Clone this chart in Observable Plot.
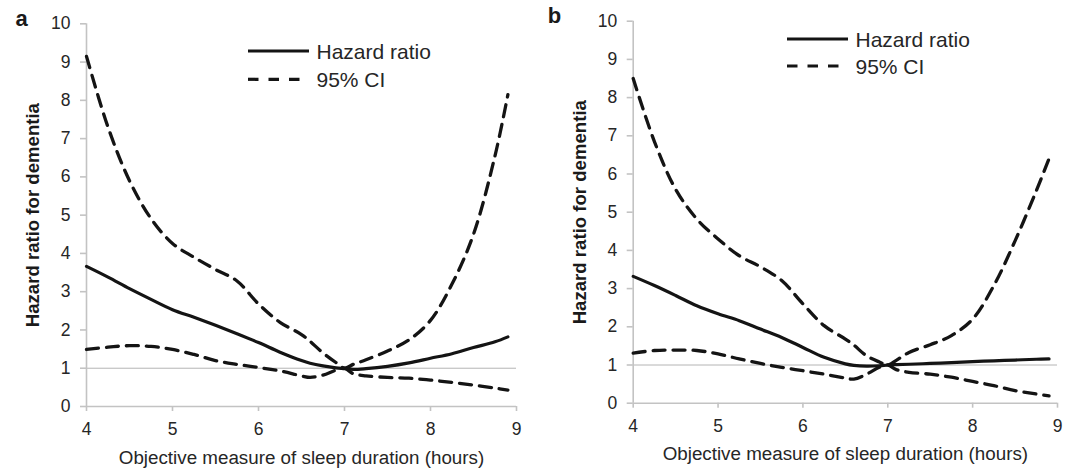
<!DOCTYPE html>
<html>
<head>
<meta charset="utf-8">
<script src="https://cdn.jsdelivr.net/npm/d3@7"></script>
<script src="https://cdn.jsdelivr.net/npm/@observablehq/plot@0.6"></script>
<style>
  html, body { margin: 0; padding: 0; background: #fff; }
  #wrap { position: relative; width: 1080px; height: 472px; overflow: hidden; font-family: "Liberation Sans", Arial, sans-serif; }
  .panel { position: absolute; top: 0; }
  .legend { position: absolute; }
</style>
</head>
<body>
<div id="wrap"></div>
<script>
// ---- data ----
const sleepHours = [4, 4.25, 4.5, 4.75, 5, 5.25, 5.5, 5.75, 6, 6.25, 6.5, 6.6, 6.75, 6.9, 7, 7.1, 7.25, 7.5, 7.75, 8, 8.25, 8.5, 8.75, 8.9];

// Panel a
const hrA    = [3.66, 3.38, 3.08, 2.8, 2.53, 2.33, 2.12, 1.9, 1.67, 1.42, 1.2, 1.13, 1.06, 1.01, 0.99, 0.97, 0.99, 1.05, 1.14, 1.26, 1.38, 1.54, 1.69, 1.82];
const upperA = [9.15, 7.3, 5.9, 4.91, 4.26, 3.9, 3.58, 3.28, 2.68, 2.2, 1.88, 1.7, 1.4, 1.15, 1.0, 1.1, 1.22, 1.45, 1.74, 2.25, 3.2, 4.5, 6.55, 8.15];
const lowerA = [1.49, 1.55, 1.59, 1.57, 1.49, 1.36, 1.2, 1.1, 1.02, 0.93, 0.8, 0.76, 0.82, 0.95, 1.0, 0.86, 0.8, 0.76, 0.74, 0.69, 0.63, 0.56, 0.48, 0.43];

// Panel b
const hrB    = [3.32, 3.08, 2.82, 2.55, 2.34, 2.16, 1.94, 1.72, 1.46, 1.2, 1.03, 0.99, 0.97, 0.98, 1.0, 1.01, 1.02, 1.04, 1.06, 1.09, 1.11, 1.13, 1.15, 1.16];
const upperB = [8.5, 6.85, 5.6, 4.82, 4.3, 3.86, 3.57, 3.21, 2.6, 2.03, 1.68, 1.52, 1.24, 1.08, 1.0, 1.12, 1.33, 1.53, 1.77, 2.2, 3.08, 4.25, 5.56, 6.4];
const lowerB = [1.31, 1.38, 1.39, 1.38, 1.29, 1.16, 1.04, 0.94, 0.85, 0.76, 0.66, 0.63, 0.76, 0.94, 1.0, 0.88, 0.81, 0.76, 0.68, 0.57, 0.46, 0.33, 0.24, 0.19];

const xTicks = [4, 5, 6, 7, 8, 9];
const yTicks = [0, 1, 2, 3, 4, 5, 6, 7, 8, 9, 10];
const referenceHR = [1];
const panelLabels = ["a", "b"];
const legendNames = ["Hazard ratio", "95% CI"];
const xTitle = "Objective measure of sleep duration (hours)";
const yTitle = "Hazard ratio for dementia";

// ---- styles ----
const FONT = '"Liberation Sans", Arial, sans-serif';
const lineColor = "#141414";
const axisColor = "#c3c3c3";
const refColor = "#b4b4b4";
const textColor = "#262626";
const dash = "12,8";

function panel(opts) {
  const {hr, upper, lower, label, ml, mr, mt, mb, labelDx, labelDy, yTitleDx, xTitleDy, xTickPad} = opts;
  return Plot.plot({
    width: 540,
    height: 472,
    marginLeft: ml,
    marginRight: mr,
    marginTop: mt,
    marginBottom: mb,
    style: {fontFamily: FONT, background: "transparent", overflow: "visible"},
    x: {domain: [4, 9], axis: null},
    y: {domain: [0, 10], axis: null},
    marks: [
      Plot.ruleY(referenceHR, {stroke: refColor, strokeWidth: 1}),
      Plot.ruleX([4], {stroke: axisColor, strokeWidth: 1.6}),
      Plot.ruleY([0], {stroke: axisColor, strokeWidth: 1.6}),
      Plot.axisY({ticks: yTicks, tickSize: 6, tickPadding: 10, stroke: axisColor, strokeWidth: 1.6, fill: textColor, fontSize: 17.5, label: null, tickFormat: d => String(d)}),
      Plot.axisX({ticks: xTicks, tickSize: 5, tickPadding: xTickPad, stroke: axisColor, strokeWidth: 1.6, fill: textColor, fontSize: 17.5, label: null, tickFormat: d => String(d)}),
      Plot.line(sleepHours, {x: sleepHours, y: lower, curve: "catmull-rom", stroke: lineColor, strokeWidth: 3.3, strokeDasharray: dash}),
      Plot.line(sleepHours, {x: sleepHours, y: upper, curve: "catmull-rom", stroke: lineColor, strokeWidth: 3.3, strokeDasharray: dash}),
      Plot.line(sleepHours, {x: sleepHours, y: hr, curve: "catmull-rom", stroke: lineColor, strokeWidth: 3.2}),
      Plot.text([xTitle], {frameAnchor: "bottom", dy: xTitleDy, lineAnchor: "middle", fontSize: 18.8, fill: textColor}),
      Plot.text([yTitle], {frameAnchor: "left", dx: yTitleDx, rotate: -90, lineAnchor: "middle", textAnchor: "middle", fontSize: 18.6, fontWeight: "bold", fill: "#1a1a1a"}),
      Plot.text([label], {frameAnchor: "top-left", dx: labelDx, dy: labelDy, textAnchor: "middle", lineAnchor: "middle", fontSize: 22, fontWeight: "bold", fill: "#1a1a1a"})
    ]
  });
}

function legend(rowGap) {
  const svg = d3.create("svg").attr("width", 200).attr("height", 60)
    .style("overflow", "visible").attr("class", "legend");
  const rows = svg.selectAll("g").data(legendNames).join("g")
    .attr("transform", (d, i) => `translate(0,${i * rowGap})`);
  rows.append("line").attr("x1", 0).attr("x2", 61).attr("y1", 0).attr("y2", 0)
    .attr("stroke", lineColor).attr("stroke-width", 3.2)
    .attr("stroke-dasharray", (d, i) => i === 0 ? null : "10.5,10");
  rows.append("text").attr("x", 68.5).attr("y", 0).attr("dy", "0.36em")
    .attr("fill", textColor).style("font-family", FONT).style("font-size", "21px")
    .text(d => d);
  return svg.node();
}

const wrap = document.getElementById("wrap");

const pa = panel({hr: hrA, upper: upperA, lower: lowerA, label: panelLabels[0],
  ml: 86, mr: 24, mt: 23.3, mb: 66, labelDx: -65, labelDy: -5.3, yTitleDx: -53, xTitleDy: 51, xTickPad: 11.5});
pa.classList.add("panel"); pa.style.left = "0px";
wrap.appendChild(pa);

const pb = panel({hr: hrB, upper: upperB, lower: lowerB, label: panelLabels[1],
  ml: 92.7, mr: 23, mt: 20.7, mb: 69.3, labelDx: -78.7, labelDy: -5.2, yTitleDx: -52.7, xTitleDy: 51, xTickPad: 11.5});
pb.classList.add("panel"); pb.style.left = "540px";
wrap.appendChild(pb);

const la = legend(28.3);
la.style.position = "absolute";
la.style.left = "248px"; la.style.top = "50.7px";
wrap.appendChild(la);

const lb = legend(27);
lb.style.position = "absolute";
lb.style.left = "786.7px"; lb.style.top = "39.3px";
wrap.appendChild(lb);
</script>
</body>
</html>
